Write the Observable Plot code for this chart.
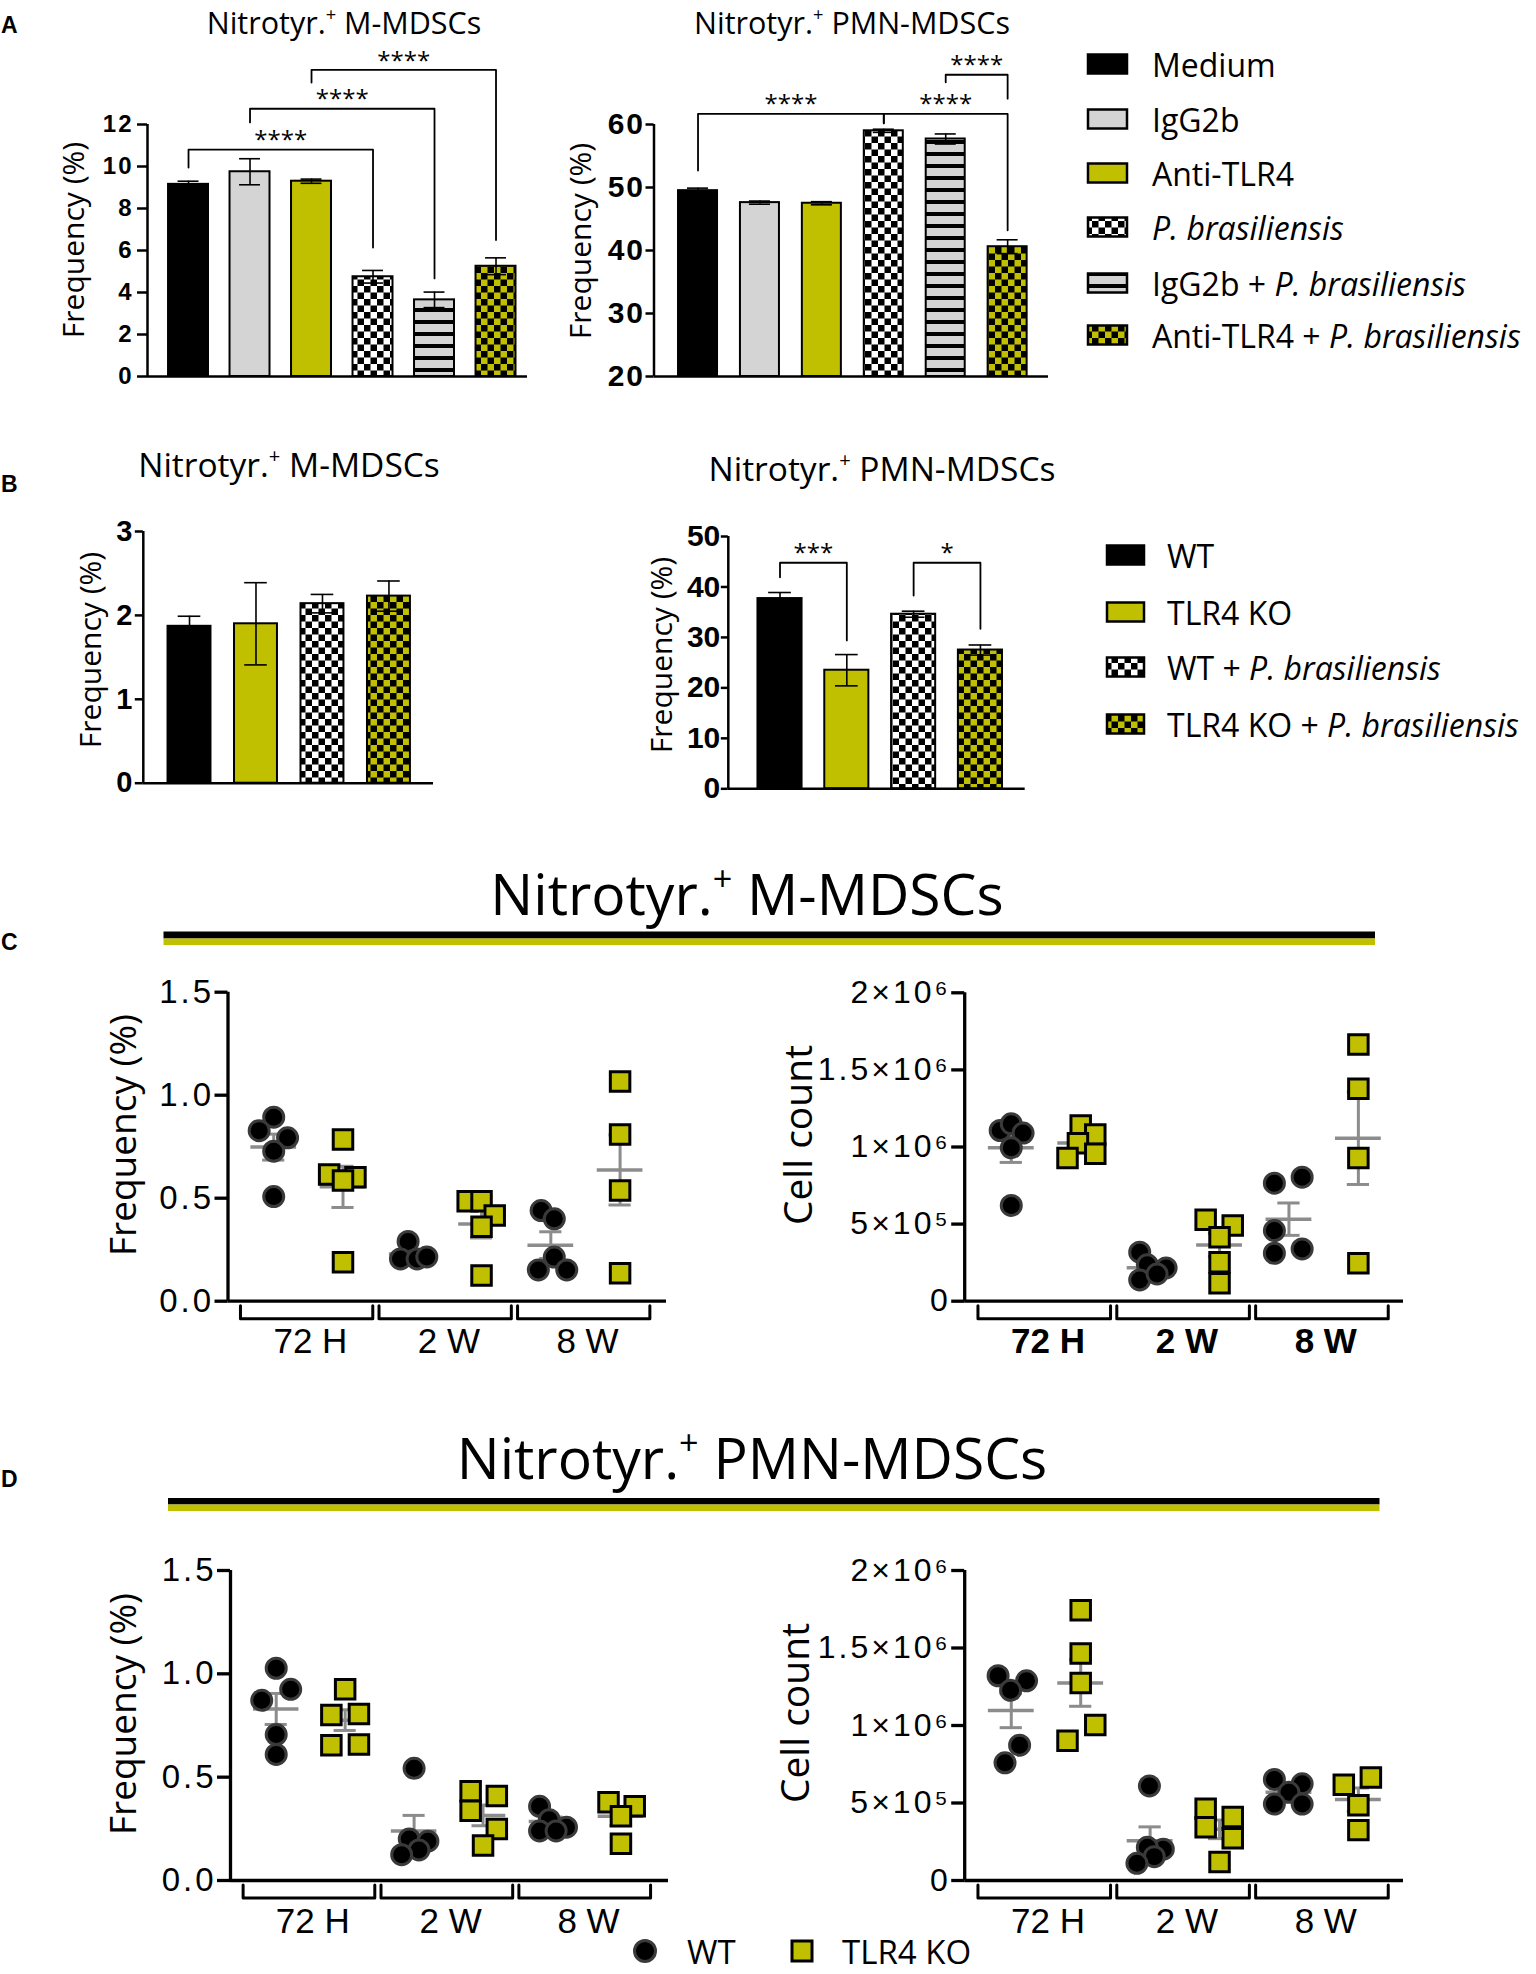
<!DOCTYPE html>
<html><head><meta charset="utf-8">
<script src="https://cdn.jsdelivr.net/npm/d3@7"></script>
<script src="https://cdn.jsdelivr.net/npm/@observablehq/plot@0.6"></script>
<style>
html,body{margin:0;padding:0;background:#fff;}
#root{position:relative;width:1536px;height:1974px;overflow:hidden;background:#fff;}
#root svg{position:absolute;overflow:visible;}
svg.wide3 g[aria-label="y-axis tick label"]{letter-spacing:3px;}
svg.wide2 g[aria-label="y-axis tick label"]{letter-spacing:2px;}
</style></head><body>
<div id="root"></div>
<script>
// ---------------- DATA ----------------
// Panel A (bars: mean, SEM)
const groupsA = ["Medium","IgG2b","Anti-TLR4","P. brasiliensis","IgG2b + P. brasiliensis","Anti-TLR4 + P. brasiliensis"];
const mMdscA = [9.15, 9.75, 9.3, 4.75, 3.65, 5.25];
const mMdscASem = [0.15, 0.62, 0.1, 0.3, 0.37, 0.4];
const pmnA = [49.5, 47.6, 47.5, 59.0, 57.7, 40.6];
const pmnASem = [0.4, 0.25, 0.25, 0.25, 0.8, 1.1];
const ticksALeft = [0, 2, 4, 6, 8, 10, 12];
const ticksARight = [20, 30, 40, 50, 60];
const sigALeftPairs = [[0, 3], [1, 4], [2, 5]];
const sigALeftTop = [10.8, 12.75, 14.6];
const sigALeftEnds = [[9.95, 6.14], [12.1, 4.67], [14.0, 6.5]];
const sigALeftText = ["****", "****", "****"];
const sigARightPairs = [[0, 3], [3, 5], [4, 5]];
const sigARightTop = [61.7, 61.7, 67.9];
const sigARightEnds = [[52.7, 60.2], [60.2, 43.2], [66.7, 64.1]];
const sigARightText = ["****", "****", "****"];

// Panel B
const groupsB = ["WT", "TLR4 KO", "WT + P. brasiliensis", "TLR4 KO + P. brasiliensis"];
const mMdscB = [1.87, 1.90, 2.14, 2.23];
const mMdscBSem = [0.12, 0.49, 0.11, 0.18];
const pmnB = [37.7, 23.5, 34.6, 27.5];
const pmnBSem = [1.2, 3.1, 0.6, 1.0];
const ticksBLeft = [0, 1, 2, 3];
const ticksBRight = [0, 10, 20, 30, 40, 50];
const sigBRightPairs = [[0, 1], [2, 3]];
const sigBRightTop = [44.8, 44.8];
const sigBRightEnds = [[41.9, 29.4], [38.3, 31.7]];
const sigBRightText = ["***", "*"];

// Panels C & D: columns = 72H WT, 72H KO, 2W WT, 2W KO, 8W WT, 8W KO
const timepoints = ["72 H", "2 W", "8 W"];
const genotypes = ["WT", "TLR4 KO"];
const cFreq = [
  [0.893, 0.828, 0.793, 0.728, 0.508],
  [0.785, 0.615, 0.602, 0.586, 0.189],
  [0.29, 0.205, 0.205, 0.215],
  [0.485, 0.485, 0.416, 0.362, 0.125],
  [0.44, 0.40, 0.214, 0.152, 0.152],
  [1.066, 0.809, 0.537, 0.136]
];
const cFreqJitter = [
  [0, -0.21, 0.2, 0, 0],
  [0, -0.2, 0.18, 0, 0],
  [-0.06, -0.17, 0.07, 0.21],
  [-0.2, 0, 0.19, 0, 0],
  [-0.14, 0.05, 0.05, -0.18, 0.23],
  [0, 0, 0, 0]
];
const cFreqMean = [0.748, 0.555, 0.229, 0.375, 0.272, 0.637];
const cFreqSem = [0.063, 0.1, 0.02, 0.068, 0.065, 0.17];

const cCount = [
  [1.107e6, 1.150e6, 1.090e6, 0.995e6, 0.621e6],
  [1.139e6, 1.081e6, 1.025e6, 0.956e6, 0.928e6],
  [0.318e6, 0.236e6, 0.216e6, 0.138e6, 0.177e6],
  [0.528e6, 0.491e6, 0.415e6, 0.253e6, 0.117e6],
  [0.765e6, 0.804e6, 0.458e6, 0.311e6, 0.339e6],
  [1.665e6, 1.377e6, 0.928e6, 0.246e6]
];
const cCountJitter = [
  [-0.16, 0, 0.17, 0, 0],
  [0, 0.21, -0.04, 0.21, -0.19],
  [-0.15, -0.04, 0.23, -0.15, 0.1],
  [-0.2, 0.19, 0, 0, 0],
  [-0.21, 0.19, -0.21, -0.21, 0.19],
  [0, 0, 0, 0]
];
const cCountMean = [0.995e6, 1.026e6, 0.217e6, 0.365e6, 0.532e6, 1.057e6];
const cCountSem = [0.095e6, 0.04e6, 0.03e6, 0.075e6, 0.105e6, 0.30e6];

const dFreq = [
  [1.027, 0.925, 0.872, 0.706, 0.610],
  [0.925, 0.801, 0.806, 0.655, 0.658],
  [0.543, 0.201, 0.190, 0.148, 0.125],
  [0.432, 0.409, 0.338, 0.249, 0.169],
  [0.359, 0.294, 0.258, 0.240, 0.240],
  [0.379, 0.359, 0.311, 0.178]
];
const dFreqJitter = [
  [0, 0.21, -0.21, 0, 0],
  [0, -0.2, 0.2, -0.2, 0.2],
  [0, -0.07, 0.2, 0.07, -0.18],
  [-0.18, 0.2, -0.18, 0.2, 0],
  [-0.18, -0.04, 0.21, -0.18, 0.06],
  [-0.18, 0.2, 0, 0]
];
const dFreqMean = [0.83, 0.776, 0.24, 0.315, 0.285, 0.311];
const dFreqSem = [0.075, 0.05, 0.075, 0.05, 0.022, 0.045];

const dCount = [
  [1.321e6, 1.288e6, 1.227e6, 0.873e6, 0.759e6],
  [1.744e6, 1.464e6, 1.274e6, 1.004e6, 0.902e6],
  [0.610e6, 0.202e6, 0.214e6, 0.154e6, 0.111e6],
  [0.463e6, 0.410e6, 0.344e6, 0.273e6, 0.119e6],
  [0.652e6, 0.624e6, 0.569e6, 0.493e6, 0.493e6],
  [0.664e6, 0.617e6, 0.486e6, 0.325e6]
];
const dCountJitter = [
  [-0.19, 0.22, -0.01, 0.12, -0.09],
  [0, 0, 0, 0.21, -0.19],
  [-0.01, 0.19, -0.04, 0.06, -0.19],
  [-0.2, 0.19, -0.2, 0.19, 0],
  [-0.21, 0.19, 0, -0.21, 0.19],
  [0.18, -0.21, 0, 0]
];
const dCountMean = [1.096e6, 1.274e6, 0.256e6, 0.33e6, 0.569e6, 0.522e6];
const dCountSem = [0.11e6, 0.15e6, 0.09e6, 0.06e6, 0.03e6, 0.075e6];
const ticksFreq = [0, 0.5, 1.0, 1.5];
const ticksCount = [0, 5e5, 1e6, 1.5e6, 2e6];

// ---------------- STYLE ----------------
const OLIVE = "#c0c000";
const GREY = "#d4d4d4";
const MEANC = "#8c8c8c";
const OPEN = "'Open Sans', 'Noto Sans', sans-serif";
const ARIAL = "'Liberation Sans', Arial, sans-serif";
const fillsA = ["#000", GREY, OLIVE, "url(#chk)", "url(#stripe)", "url(#ychk)"];
const fillsB = ["#000", OLIVE, "url(#chk)", "url(#ychk)"];

const root = document.getElementById("root");

// overlay svg for titles, legends, decorations
const ov = d3.select(root).append("svg").attr("width", 1536).attr("height", 1974)
  .style("left", "0px").style("top", "0px");
const defs = ov.append("defs");
function checker(id, c1, c2, s) {
  const p = defs.append("pattern").attr("id", id).attr("width", 2 * s).attr("height", 2 * s).attr("patternUnits", "userSpaceOnUse");
  p.append("rect").attr("width", 2 * s).attr("height", 2 * s).attr("fill", c1);
  p.append("rect").attr("width", s).attr("height", s).attr("fill", c2);
  p.append("rect").attr("x", s).attr("y", s).attr("width", s).attr("height", s).attr("fill", c2);
}
checker("chk", "#fff", "#000", 6.5);
checker("ychk", OLIVE, "#000", 6.5);
{
  const p = defs.append("pattern").attr("id", "stripe").attr("width", 12).attr("height", 12).attr("patternUnits", "userSpaceOnUse");
  p.append("rect").attr("width", 12).attr("height", 12).attr("fill", GREY);
  p.append("rect").attr("y", 8).attr("width", 12).attr("height", 4).attr("fill", "#000");
}

function label(x, y, str, o = {}) {
  const size = o.size || 30;
  const t = ov.append("text")
    .attr("x", x).attr("y", y)
    .attr("font-family", o.family || OPEN)
    .attr("font-size", size)
    .attr("font-weight", o.weight || 400)
    .attr("text-anchor", o.anchor || "start")
    .attr("fill", "#000");
  if (o.baseline) t.attr("dominant-baseline", o.baseline);
  if (o.rotate) t.attr("transform", `rotate(${o.rotate},${x},${y})`);
  // italic species name and superscript "+"
  const parts = str.split(/(P\. brasiliensis|\^\+)/).filter(s => s.length);
  let pendingDy = 0;
  parts.forEach(s => {
    let ts;
    if (s === "^+") {
      ts = t.append("tspan").attr("font-size", size * 0.6).attr("dy", -size * 0.42).text("+");
      pendingDy = size * 0.42;
      return;
    } else if (s === "P. brasiliensis") {
      ts = t.append("tspan").attr("font-style", "italic").text(s);
    } else ts = t.append("tspan").text(s);
    if (pendingDy) { ts.attr("dy", pendingDy); pendingDy = 0; }
  });
  return t;
}

// panel letters
[["A", 33], ["B", 492], ["C", 950], ["D", 1487]].forEach(([s, y]) =>
  label(1, y, s, {family: ARIAL, weight: 700, size: 23}));

// panel titles
label(344, 33.5, "Nitrotyr.^+ M-MDSCs", {anchor: "middle", size: 30.5});
label(852, 34, "Nitrotyr.^+ PMN-MDSCs", {anchor: "middle", size: 30.5});
label(289, 477, "Nitrotyr.^+ M-MDSCs", {anchor: "middle", size: 33.5});
label(882, 481, "Nitrotyr.^+ PMN-MDSCs", {anchor: "middle", size: 33.5});
label(747, 915, "Nitrotyr.^+ M-MDSCs", {anchor: "middle", size: 57});
label(752, 1479, "Nitrotyr.^+ PMN-MDSCs", {anchor: "middle", size: 57});

// double rule under big titles
ov.append("rect").attr("x", 163.5).attr("y", 931.5).attr("width", 1211.5).attr("height", 7).attr("fill", "#000");
ov.append("rect").attr("x", 163.5).attr("y", 938.5).attr("width", 1211.5).attr("height", 6.5).attr("fill", OLIVE);
ov.append("rect").attr("x", 168).attr("y", 1498).attr("width", 1211.5).attr("height", 6.5).attr("fill", "#000");
ov.append("rect").attr("x", 168).attr("y", 1504.5).attr("width", 1211.5).attr("height", 6.5).attr("fill", OLIVE);

// y-axis titles
[[72, 240, "Frequency (%)", 30], [578.6, 241, "Frequency (%)", 30], [88.6, 650, "Frequency (%)", 30],
 [660, 655, "Frequency (%)", 30], [120.6, 1135, "Frequency (%)", 37], [796, 1135, "Cell count", 39],
 [120.6, 1714, "Frequency (%)", 37], [793, 1713, "Cell count", 39]].forEach(([x, y, s, sz]) =>
  label(x, y, s, {anchor: "middle", baseline: "central", rotate: -90, size: sz}));

// legends A & B
const rowsA = [64, 119, 173, 227, 283, 335];
groupsA.forEach((g, i) => {
  ov.append("rect").attr("x", 1088).attr("y", rowsA[i] - 9.5).attr("width", 39).attr("height", 19)
    .attr("fill", fillsA[i]).attr("stroke", "#000").attr("stroke-width", 2.5);
  label(1152, rowsA[i], g, {baseline: "central", size: 32});
});
const rowsB = [555, 612, 667, 724];
groupsB.forEach((g, i) => {
  ov.append("rect").attr("x", 1107).attr("y", rowsB[i] - 9.5).attr("width", 37).attr("height", 19)
    .attr("fill", fillsB[i]).attr("stroke", "#000").attr("stroke-width", 2.5);
  label(1167, rowsB[i], g, {baseline: "central", size: 32});
});
// bottom legend
ov.append("circle").attr("cx", 645).attr("cy", 1951).attr("r", 10.5).attr("fill", "#000").attr("stroke", "#3a3a3a").attr("stroke-width", 3);
label(687, 1964, genotypes[0], {size: 33});
ov.append("rect").attr("x", 792).attr("y", 1941).attr("width", 20).attr("height", 20).attr("fill", OLIVE).attr("stroke", "#000").attr("stroke-width", 3);
label(842, 1964, genotypes[1], {size: 33});

// ---------------- BAR PLOTS ----------------
function barPlot(c) {
  const rows = c.values.map((v, i) => ({i, v, s: c.sems[i], fill: c.fills[i]}));
  const CAP = 0.17;
  const br = c.pairs.map((p, k) => ({a: p[0], b: p[1], top: c.tops[k], ea: c.ends[k][0], eb: c.ends[k][1], label: c.labels[k]}));
  const brPts = br.flatMap((d, k) => [{k, x: d.a, y: d.ea}, {k, x: d.a, y: d.top}, {k, x: d.b, y: d.top}, {k, x: d.b, y: d.eb}]);
  const svg = Plot.plot({
    width: c.width, height: c.height,
    marginLeft: c.ml, marginRight: c.mr, marginTop: c.mt, marginBottom: c.mb,
    className: c.cls,
    style: {background: "transparent", overflow: "visible", fontFamily: ARIAL},
    x: {domain: c.xDom, axis: null},
    y: {domain: c.yDom},
    color: {type: "identity"},
    marks: [
      Plot.rect(rows, {x1: d => d.i - c.hw, x2: d => d.i + c.hw, y1: () => c.yDom[0], y2: "v", fill: "fill", stroke: "#000", strokeWidth: 2}),
      Plot.ruleX(rows, {x: "i", y1: d => d.v - d.s, y2: d => d.v + d.s, stroke: "#000", strokeWidth: 1.6}),
      Plot.ruleY(rows, {x1: d => d.i - CAP, x2: d => d.i + CAP, y: d => d.v + d.s, stroke: "#000", strokeWidth: 1.6}),
      Plot.ruleY(rows, {x1: d => d.i - CAP, x2: d => d.i + CAP, y: d => d.v - d.s, stroke: "#000", strokeWidth: 1.6}),
      Plot.line(brPts, {x: "x", y: "y", z: "k", stroke: "#000", strokeWidth: 1.8}),
      Plot.text(br, {x: d => (d.a + d.b) / 2, y: "top", text: "label", dy: -9, fontSize: 24, fontFamily: OPEN, fill: "#000"}),
      Plot.ruleX([c.xDom[0]], {stroke: "#000", strokeWidth: 2.5}),
      Plot.ruleY([c.yDom[0]], {stroke: "#000", strokeWidth: 2.5}),
      Plot.axisY({ticks: c.ticks, tickSize: c.tickSize, tickPadding: c.tickPad, fontSize: c.tickFont,
        fontWeight: "bold", fontFamily: ARIAL, strokeWidth: 2.5, label: null, tickFormat: d => String(d)})
    ]
  });
  svg.style.left = c.left + "px";
  svg.style.top = c.top + "px";
  root.append(svg);
}

barPlot({left: 0, top: 0, width: 540, height: 400, ml: 147, mr: 13, mt: 124, mb: 24,
  xDom: [-0.667, 5.512], yDom: [0, 12], ticks: ticksALeft, values: mMdscA, sems: mMdscASem, fills: fillsA,
  hw: 0.325, pairs: sigALeftPairs, tops: sigALeftTop, ends: sigALeftEnds, labels: sigALeftText,
  tickFont: 24, tickSize: 10, tickPad: 4, cls: "wide2"});
barPlot({left: 540, top: 0, width: 520, height: 400, ml: 113.5, mr: 12, mt: 124, mb: 24,
  xDom: [-0.711, 5.66], yDom: [20, 60], ticks: ticksARight, values: pmnA, sems: pmnASem, fills: fillsA,
  hw: 0.315, pairs: sigARightPairs, tops: sigARightTop, ends: sigARightEnds, labels: sigARightText,
  tickFont: 30, tickSize: 8, tickPad: 1, cls: "wide2"});
barPlot({left: 0, top: 420, width: 450, height: 400, ml: 142.8, mr: 17, mt: 111, mb: 37.3,
  xDom: [-0.695, 3.67], yDom: [0, 3], ticks: ticksBLeft, values: mMdscB, sems: mMdscBSem, fills: fillsB,
  hw: 0.323, pairs: [], tops: [], ends: [], labels: [],
  tickFont: 29, tickSize: 8, tickPad: 3, cls: "b1"});
barPlot({left: 600, top: 420, width: 440, height: 400, ml: 127.8, mr: 15.3, mt: 116, mb: 31.7,
  xDom: [-0.774, 3.67], yDom: [0, 50], ticks: ticksBRight, values: pmnB, sems: pmnBSem, fills: fillsB,
  hw: 0.33, pairs: sigBRightPairs, tops: sigBRightTop, ends: sigBRightEnds, labels: sigBRightText,
  tickFont: 30, tickSize: 7, tickPad: 1, cls: "b2"});

// ---------------- SCATTER PLOTS ----------------
const SUPS = "⁰¹²³⁴⁵⁶⁷⁸⁹";
const sciFmt = d => {
  if (d === 0) return "0";
  const e = Math.floor(Math.log10(d) + 1e-9);
  const m = +(d / Math.pow(10, e)).toFixed(2);
  return `${m}×10${String(e).split("").map(ch => SUPS[+ch]).join("")}`;
};
const fixFmt = d => d.toFixed(1);

function scatterPlot(c) {
  const pts = c.values.flatMap((col, ci) => col.map((v, k) => ({c: ci, v, j: c.jitter[ci][k], ko: ci % 2 === 1})));
  const summ = c.means.map((m, ci) => ({c: ci, m, s: c.sems[ci]}));
  const frameH = c.height - c.mt - c.mb;
  const pxY = (c.yDom[1] - c.yDom[0]) / frameH;
  const brTop = c.yDom[0] - 4.5 * pxY, brBot = c.yDom[0] - 17.5 * pxY;
  const GL = -0.48, GR = 1.43;
  const groups = timepoints.map((t, g) => ({g, t}));
  const brPts = groups.flatMap(({g}) => [
    {g, x: 2 * g + GL, y: brTop}, {g, x: 2 * g + GL, y: brBot},
    {g, x: 2 * g + GR, y: brBot}, {g, x: 2 * g + GR, y: brTop}]);
  const svg = Plot.plot({
    width: c.width, height: c.height,
    marginLeft: c.ml, marginRight: c.mr, marginTop: c.mt, marginBottom: c.mb,
    className: "wide3",
    style: {background: "transparent", overflow: "visible", fontFamily: ARIAL},
    x: {domain: c.xDom, axis: null},
    y: {domain: c.yDom},
    marks: [
      Plot.ruleX(summ, {x: "c", y1: d => d.m - d.s, y2: d => d.m + d.s, stroke: MEANC, strokeWidth: 3}),
      Plot.ruleY(summ, {x1: d => d.c - 0.16, x2: d => d.c + 0.16, y: d => d.m + d.s, stroke: MEANC, strokeWidth: 3}),
      Plot.ruleY(summ, {x1: d => d.c - 0.16, x2: d => d.c + 0.16, y: d => d.m - d.s, stroke: MEANC, strokeWidth: 3}),
      Plot.ruleY(summ, {x1: d => d.c - 0.33, x2: d => d.c + 0.33, y: "m", stroke: MEANC, strokeWidth: 3.5}),
      Plot.dot(pts.filter(d => !d.ko), {x: d => d.c + d.j, y: "v", r: 10, fill: "#000", stroke: "#3a3a3a", strokeWidth: 3}),
      Plot.dot(pts.filter(d => d.ko), {x: d => d.c + d.j, y: "v", symbol: "square", r: 11, fill: OLIVE, stroke: "#000", strokeWidth: 3}),
      Plot.line(brPts, {x: "x", y: "y", z: "g", stroke: "#000", strokeWidth: 3}),
      Plot.text(groups, {x: d => 2 * d.g + 0.53, y: () => c.yDom[0], text: "t", dy: 41, fontSize: 35,
        fontWeight: c.labelWeight, fontFamily: ARIAL, fill: "#000"}),
      Plot.ruleX([c.xDom[0]], {stroke: "#000", strokeWidth: 3.3}),
      Plot.ruleY([c.yDom[0]], {stroke: "#000", strokeWidth: 3.3}),
      Plot.axisY({ticks: c.ticks, tickFormat: c.fmt, tickSize: 13, tickPadding: 1, fontSize: c.tickFont,
        fontFamily: ARIAL, strokeWidth: 3.3, label: null})
    ]
  });
  svg.style.left = c.left + "px";
  svg.style.top = c.top + "px";
  root.append(svg);
}

scatterPlot({left: 0, top: 960, width: 690, height: 420, ml: 227.5, mr: 24, mt: 31.7, mb: 79.3,
  xDom: [-0.66, 5.67], yDom: [0, 1.5], ticks: ticksFreq, fmt: fixFmt, tickFont: 33,
  values: cFreq, jitter: cFreqJitter, means: cFreqMean, sems: cFreqSem, labelWeight: 400});
scatterPlot({left: 700, top: 960, width: 720, height: 420, ml: 264.2, mr: 17, mt: 32.3, mb: 79.3,
  xDom: [-0.671, 5.65], yDom: [0, 2e6], ticks: ticksCount, fmt: sciFmt, tickFont: 32,
  values: cCount, jitter: cCountJitter, means: cCountMean, sems: cCountSem, labelWeight: 700});
scatterPlot({left: 0, top: 1530, width: 690, height: 420, ml: 230, mr: 22, mt: 40, mb: 70,
  xDom: [-0.663, 5.69], yDom: [0, 1.5], ticks: ticksFreq, fmt: fixFmt, tickFont: 33,
  values: dFreq, jitter: dFreqJitter, means: dFreqMean, sems: dFreqSem, labelWeight: 400});
scatterPlot({left: 700, top: 1530, width: 720, height: 420, ml: 264.2, mr: 17, mt: 40, mb: 70,
  xDom: [-0.671, 5.65], yDom: [0, 2e6], ticks: ticksCount, fmt: sciFmt, tickFont: 32,
  values: dCount, jitter: dCountJitter, means: dCountMean, sems: dCountSem, labelWeight: 400});
</script>
</body></html>
